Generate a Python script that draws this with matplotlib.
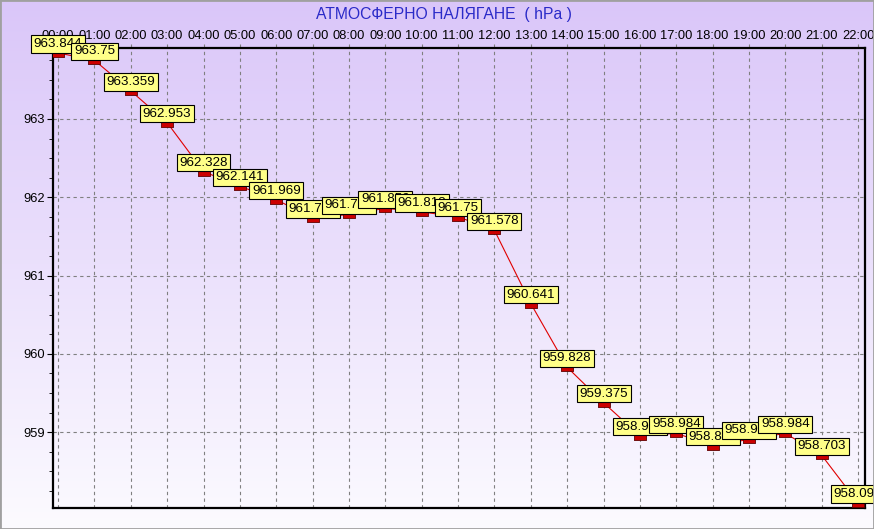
import numpy as np
import matplotlib.pyplot as plt
from matplotlib.colors import LinearSegmentedColormap
from matplotlib.patches import Rectangle
from matplotlib.ticker import MultipleLocator

plt.rcParams['font.family'] = ['Liberation Sans', 'DejaVu Sans']

hours = ['00:00', '01:00', '02:00', '03:00', '04:00', '05:00', '06:00', '07:00',
         '08:00', '09:00', '10:00', '11:00', '12:00', '13:00', '14:00', '15:00',
         '16:00', '17:00', '18:00', '19:00', '20:00', '21:00', '22:00']
pressure = [963.844, 963.75, 963.359, 962.953, 962.328, 962.141, 961.969, 961.734,
            961.781, 961.859, 961.813, 961.75, 961.578, 960.641, 959.828, 959.375,
            958.953, 958.984, 958.828, 958.906, 958.984, 958.703, 958.094]
yticks = [959, 960, 961, 962, 963]

fig = plt.figure(figsize=(8.74, 5.29), dpi=100)

# background gradient over the whole figure
bg = fig.add_axes([0, 0, 1, 1], zorder=-10)
cmap = LinearSegmentedColormap.from_list('bg', ['#dac6f9', '#fcfbff'])
bg.imshow(np.linspace(0, 1, 256).reshape(-1, 1), aspect='auto', cmap=cmap,
          extent=[0, 1, 0, 1])
bg.axis('off')
fig.patches.append(Rectangle((0, 0), 1, 1, transform=fig.transFigure, fill=False,
                             edgecolor='#a0a0a0', lw=2))

ax = fig.add_axes([53/874, 21/529, 812/874, 460/529])
ax.patch.set_alpha(0)

x = np.arange(len(hours))
ax.plot(x, pressure, color='#e00000', lw=0.8, zorder=3)
mverts = [(-1.6, -1), (1.6, -1), (1.6, 1), (-1.6, 1), (-1.6, -1)]
ax.plot(x, pressure, ls='none', marker=mverts, ms=9, mfc='#cc0000',
        mec='#600000', mew=0.6, zorder=4)

for i, v in enumerate(pressure):
    ax.annotate(f'{v:g}', (x[i], v), xytext=(0, 9), textcoords='offset pixels',
                ha='center', va='center', fontsize=9.6, annotation_clip=False,
                zorder=10 + i,
                bbox=dict(boxstyle='square,pad=0.2', fc='#ffff88', ec='black', lw=0.8))

ax.set_xlim(-0.14, 22.19)
ax.set_ylim(958.03, 963.907)
ax.set_xticks(x)
ax.set_xticklabels(hours)
ax.set_yticks(yticks)
ax.yaxis.set_minor_locator(MultipleLocator(0.25))
ax.xaxis.tick_top()
ax.tick_params(axis='x', labelsize=9.3, length=3, color='#808080', pad=1.5)
ax.tick_params(axis='y', which='major', labelsize=9.3, length=4, pad=2)
ax.tick_params(axis='y', which='minor', length=3)
ax.grid(True, color='#808080', ls=(0, (3, 3)), lw=0.8)
for s in ax.spines.values():
    s.set_linewidth(1.6)
    s.set_color('black')

fig.text(444/874, 1 - 15/529, 'АТМОСФЕРНО НАЛЯГАНЕ  ( hPa )', ha='center',
         va='center', fontsize=11.3, color='#2a2ac8')

fig.savefig('out.png', dpi=100)
